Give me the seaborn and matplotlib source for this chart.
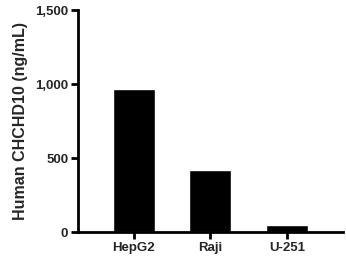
import matplotlib
matplotlib.use("Agg")
import matplotlib.pyplot as plt
import pandas as pd
import seaborn as sns
from matplotlib.ticker import FuncFormatter

sns.set_theme(style="ticks")
plt.rcParams["font.family"] = ["Liberation Sans", "DejaVu Sans"]

cell_lines = ["HepG2", "Raji", "U-251"]
chchd10_ng_ml = [966, 419, 47]

df = pd.DataFrame({"cell_line": cell_lines, "conc": chchd10_ng_ml})

fig = plt.figure(figsize=(3.46, 2.64), dpi=100)
ax = fig.add_axes([0.2254, 0.1212, 0.7656, 0.8408])

sns.barplot(data=df, x="cell_line", y="conc", color="black", width=0.55,
            saturation=1, ax=ax)

ax.set_ylim(0, 1500)
ax.set_xlim(-0.73, 2.73)
ax.set_yticks([0, 500, 1000, 1500])
ax.yaxis.set_major_formatter(FuncFormatter(lambda v, p: f"{int(v):,}"))
ax.set_xlabel("")
ax.set_ylabel("Human CHCHD10 (ng/mL)", fontsize=11.5, fontweight="bold",
              labelpad=5)

for s in ["top", "right"]:
    ax.spines[s].set_visible(False)
for s in ["left", "bottom"]:
    ax.spines[s].set_linewidth(2)
    ax.spines[s].set_color("black")

ax.tick_params(axis="both", direction="out", length=5, width=2, color="black",
               labelsize=9.5, pad=2)
for lbl in ax.get_xticklabels() + ax.get_yticklabels():
    lbl.set_fontweight("bold")

fig.savefig("out.png", dpi=100)
